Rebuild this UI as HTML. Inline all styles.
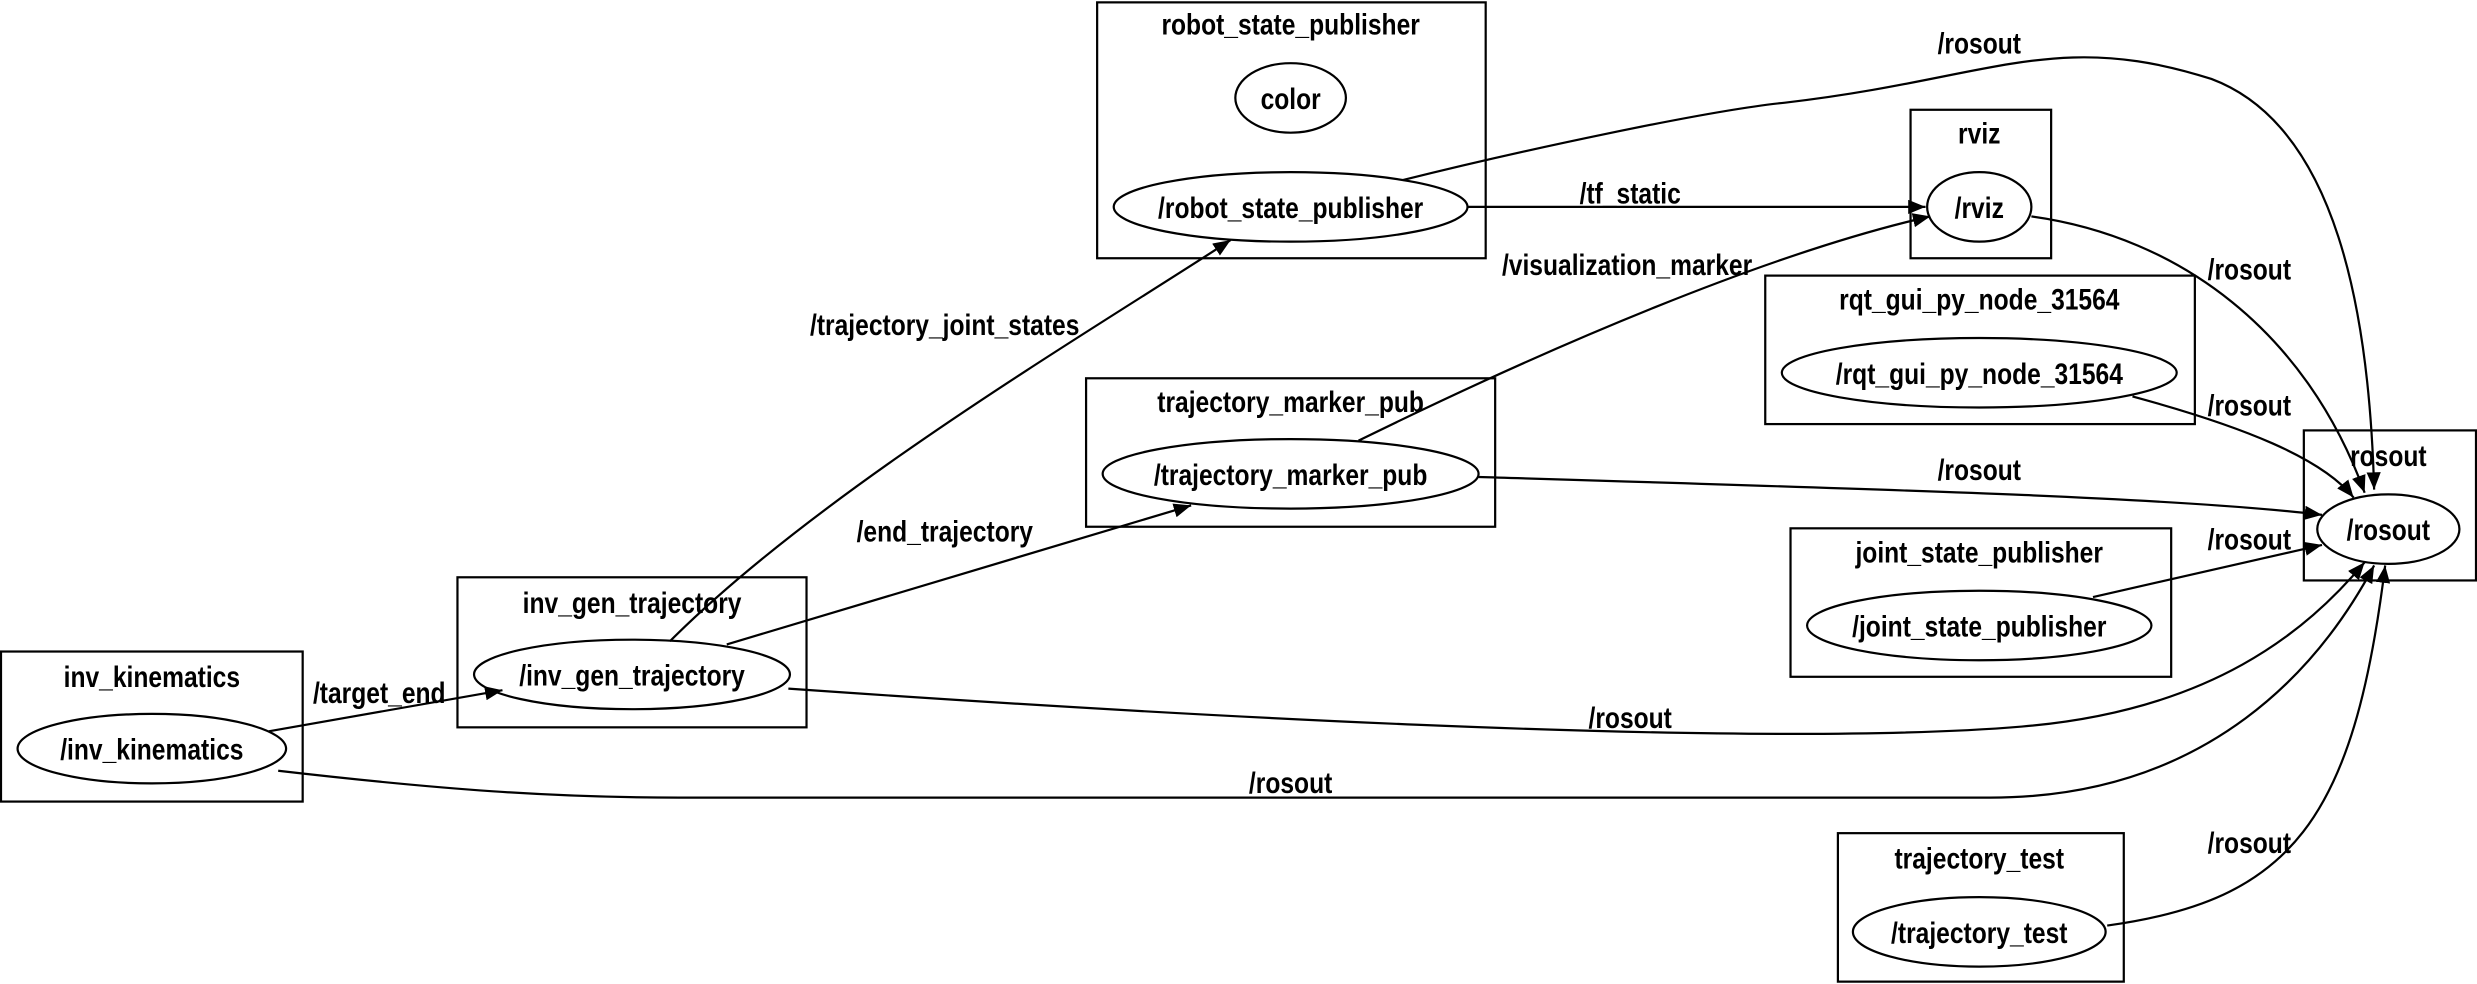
<!DOCTYPE html>
<html><head><meta charset="utf-8"><style>
html,body{margin:0;padding:0;background:#fff;}
svg{display:block;}
text{font-family:"Liberation Sans","DejaVu Sans",sans-serif;font-size:19px;font-weight:bold;text-anchor:middle;fill:#000;transform-box:fill-box;transform-origin:center;transform:scaleX(0.82);}
</style></head><body>
<svg width="2477" height="984" viewBox="0 0 1568 623" xmlns="http://www.w3.org/2000/svg">
<defs><marker id="a" markerWidth="11" markerHeight="9" refX="11" refY="4.5" orient="auto" markerUnits="userSpaceOnUse"><path d="M0,0 L11,4.5 L0,9 z" fill="#000"/></marker></defs>
<g fill="none" stroke="#000" stroke-width="1.4">
<rect x="694.5" y="1.5" width="246" height="162"/>
<ellipse cx="817" cy="62" rx="35" ry="22"/>
<ellipse cx="817" cy="131" rx="112" ry="22"/>
<rect x="1209.5" y="69.5" width="89" height="94"/>
<ellipse cx="1253" cy="131" rx="33" ry="22"/>
<rect x="1117.5" y="174.5" width="272" height="94"/>
<ellipse cx="1253" cy="236" rx="125" ry="22"/>
<rect x="687.5" y="239.5" width="259" height="94"/>
<ellipse cx="817" cy="300" rx="119" ry="22"/>
<rect x="1458.5" y="272.5" width="109" height="95"/>
<ellipse cx="1512" cy="335" rx="45" ry="22"/>
<rect x="1133.5" y="334.5" width="241" height="94"/>
<ellipse cx="1253" cy="396" rx="109" ry="22"/>
<rect x="289.5" y="365.5" width="221" height="95"/>
<ellipse cx="400" cy="427" rx="100" ry="22"/>
<rect x="0.5" y="412.5" width="191" height="95"/>
<ellipse cx="96" cy="474" rx="85" ry="22"/>
<rect x="1163.5" y="527.5" width="181" height="94"/>
<ellipse cx="1253" cy="590" rx="80" ry="22"/>

<path d="M170,463 L318,437" marker-end="url(#a)"/>
<path d="M460,408 L754,320" marker-end="url(#a)"/>
<path d="M424,406 C520,310 690,210 779,152" marker-end="url(#a)"/>
<path d="M929,131 L1219,131" marker-end="url(#a)"/>
<path d="M860,279 C980,220 1120,160 1222,137" marker-end="url(#a)"/>
<path d="M888,114 C960,96 1080,70 1130,65 C1260,50 1300,18 1400,50 C1480,80 1500,200 1503,310" marker-end="url(#a)"/>
<path d="M1286,137 C1380,150 1460,210 1497,312" marker-end="url(#a)"/>
<path d="M1350,251 C1420,270 1470,290 1490,315" marker-end="url(#a)"/>
<path d="M936,302 C1200,310 1380,315 1470,326" marker-end="url(#a)"/>
<path d="M1325,378 L1470,345" marker-end="url(#a)"/>
<path d="M499,436 C700,450 1100,475 1280,460 C1400,450 1460,400 1497,356" marker-end="url(#a)"/>
<path d="M176,488 C280,500 350,505 430,505 L1260,505 C1400,505 1470,420 1503,358" marker-end="url(#a)"/>
<path d="M1334,586 C1450,570 1490,520 1510,358" marker-end="url(#a)"/>
</g>
<g>
<text x="817" y="22">robot_state_publisher</text>
<text x="817" y="69">color</text>
<text x="817" y="138">/robot_state_publisher</text>
<text x="1253" y="91">rviz</text>
<text x="1253" y="138">/rviz</text>
<text x="1253" y="196">rqt_gui_py_node_31564</text>
<text x="1253" y="243">/rqt_gui_py_node_31564</text>
<text x="817" y="261">trajectory_marker_pub</text>
<text x="817" y="307">/trajectory_marker_pub</text>
<text x="1512" y="295">rosout</text>
<text x="1512" y="342">/rosout</text>
<text x="1253" y="356">joint_state_publisher</text>
<text x="1253" y="403">/joint_state_publisher</text>
<text x="400" y="388">inv_gen_trajectory</text>
<text x="400" y="434">/inv_gen_trajectory</text>
<text x="96" y="435">inv_kinematics</text>
<text x="96" y="481">/inv_kinematics</text>
<text x="1253" y="550">trajectory_test</text>
<text x="1253" y="597">/trajectory_test</text>

<text x="240" y="445">/target_end</text>
<text x="598" y="343">/end_trajectory</text>
<text x="598" y="212">/trajectory_joint_states</text>
<text x="1032" y="129">/tf_static</text>
<text x="1030" y="174">/visualization_marker</text>
<text x="1253" y="34">/rosout</text>
<text x="1424" y="177">/rosout</text>
<text x="1424" y="263">/rosout</text>
<text x="1253" y="304">/rosout</text>
<text x="1424" y="348">/rosout</text>
<text x="1032" y="461">/rosout</text>
<text x="817" y="502">/rosout</text>
<text x="1424" y="540">/rosout</text>
</g>
</svg>
</body></html>
